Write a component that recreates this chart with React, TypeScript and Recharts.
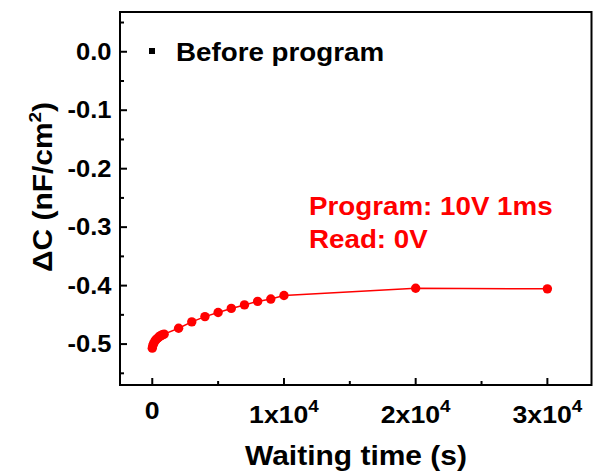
import { LineChart, Line, XAxis, YAxis, ReferenceArea } from "recharts";

// waiting time (s) and capacitance shift (nF/cm^2)
const times = [0, 50, 100, 200, 300, 400, 500, 600, 700, 800, 900, 2000, 3000, 4000, 5000, 6000, 7000, 8000, 9000, 10000, 20000, 30000];
const deltaC = [-0.507, -0.502, -0.499, -0.495, -0.492, -0.49, -0.488, -0.486, -0.485, -0.484, -0.483, -0.473, -0.462, -0.453, -0.446, -0.439, -0.433, -0.427, -0.423, -0.417, -0.4045, -0.4055];

const xTicks = [0, 5000, 10000, 15000, 20000, 25000, 30000];
const xMajorLabels: Record<number, string> = { 0: "0", 10000: "1x10", 20000: "2x10", 30000: "3x10" };
const yTicks = [0.05, 0, -0.05, -0.1, -0.15, -0.2, -0.25, -0.3, -0.35, -0.4, -0.45, -0.5, -0.55];
const yMajorLabels: Record<string, string> = {
  "0": "0.0", "-0.1": "-0.1", "-0.2": "-0.2", "-0.3": "-0.3", "-0.4": "-0.4", "-0.5": "-0.5",
};

const X_DOMAIN = [-2450, 33350];
const Y_DOMAIN = [-0.57, 0.068];

const data = times.map((t, i) => ({ t, c: deltaC[i] }));

const FONT = "'Liberation Sans', Arial, sans-serif";
const RED = "#ff0000";
const SX = 1.11; // the figure's lettering is a bit wider than Arial

function T({ x, y, size, anchor = "start", fill = "#000", rotate = 0, children }: any) {
  return (
    <text
      transform={`translate(${x} ${y}) rotate(${rotate}) scale(${SX} 1)`}
      textAnchor={anchor}
      fontFamily={FONT}
      fontWeight="bold"
      fontSize={size}
      fill={fill}
    >
      {children}
    </text>
  );
}

function XTick({ x, y, payload }: any) {
  const v = payload.value;
  const label = xMajorLabels[v];
  const major = label !== undefined;
  return (
    <g>
      <line x1={x} x2={x} y1={y} y2={y - (major ? 7 : 4)} stroke="#000" strokeWidth={2} />
      {major && v === 0 && (
        <T x={x} y={y + 34} size={24} anchor="middle">{label}</T>
      )}
      {major && v !== 0 && (
        <T x={x} y={y + 38} size={24} anchor="middle">
          <tspan>{label}</tspan>
          <tspan dy={-11} fontSize={17}>4</tspan>
        </T>
      )}
    </g>
  );
}

function YTick({ x, y, payload }: any) {
  const key = String(Math.round(payload.value * 100) / 100);
  const label = yMajorLabels[key];
  const major = label !== undefined;
  return (
    <g>
      <line x1={x} x2={x + (major ? 7 : 4)} y1={y} y2={y} stroke="#000" strokeWidth={2} />
      {major && (
        <T x={x - 8.5} y={y + 8.2} size={23} anchor="end">{label}</T>
      )}
    </g>
  );
}

export default function App() {
  return (
    <div style={{ position: "absolute", left: 0, top: 0, width: 593, height: 475, background: "#fff" }}>
      <LineChart width={593} height={475} data={data} margin={{ top: 12, right: 1.5, bottom: 0, left: 0 }}>
        <XAxis
          type="number"
          dataKey="t"
          domain={X_DOMAIN}
          allowDataOverflow
          ticks={xTicks}
          interval={0}
          height={90}
          axisLine={false}
          tickLine={false}
          tickSize={0}
          tickMargin={0}
          tick={<XTick />}
        />
        <YAxis
          type="number"
          domain={Y_DOMAIN}
          allowDataOverflow
          ticks={yTicks}
          interval={0}
          width={120}
          axisLine={false}
          tickLine={false}
          tickSize={0}
          tickMargin={0}
          tick={<YTick />}
        />
        <ReferenceArea
          x1={X_DOMAIN[0]}
          x2={X_DOMAIN[1]}
          y1={Y_DOMAIN[0]}
          y2={Y_DOMAIN[1]}
          fill="none"
          stroke="#000"
          strokeWidth={2}
          ifOverflow="visible"
        />
        <Line
          type="linear"
          dataKey="c"
          stroke={RED}
          strokeWidth={1.5}
          dot={{ r: 4.7, fill: RED, stroke: "none" }}
          isAnimationActive={false}
        />
      </LineChart>
      <svg width={593} height={475} style={{ position: "absolute", left: 0, top: 0, pointerEvents: "none" }}>
        <rect x={149} y={48} width={6} height={6} fill="#000" />
        <T x={176} y={61} size={25}>Before program</T>
        <T x={309} y={215} size={25} fill={RED}>Program: 10V 1ms</T>
        <T x={309} y={248} size={25} fill={RED}>Read: 0V</T>
        <T x={356} y={465} size={27} anchor="middle">Waiting time (s)</T>
        <T x={52} y={187} size={27} anchor="middle" rotate={-90}>
          <tspan>ΔC (nF/cm</tspan>
          <tspan dy={-11} fontSize={17}>2</tspan>
          <tspan dy={11}>)</tspan>
        </T>
      </svg>
    </div>
  );
}
